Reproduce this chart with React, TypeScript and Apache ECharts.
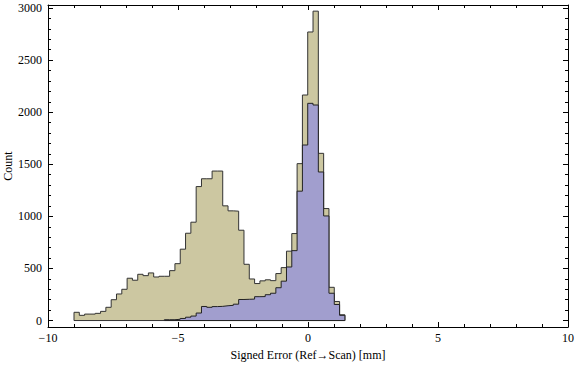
import React, { useEffect, useRef } from "react";
import * as echarts from "echarts";

// Histogram bins: all bins share the same width, starting at BIN_START
const BIN_START = -9.0;
const BIN_WIDTH = 0.2043;

// Counts of the wide (khaki) histogram, one per bin from BIN_START
const allCounts = [
  79, 50, 62, 62, 69, 88, 127, 200, 255, 300,
  406, 387, 444, 431, 457, 418, 425, 425, 479, 546,
  685, 838, 944, 1286, 1361, 1361, 1435, 1435, 1101, 1053,
  1050, 867, 540, 399, 355, 381, 391, 383, 451, 508,
  666, 835, 1506, 2165, 2770, 2970, 1605, 1075, 319, 183, 55,
];

// Counts of the narrow (lavender) histogram; it begins at bin index SUB_FIRST_BIN
const SUB_FIRST_BIN = 17;
const subCounts = [
  8, 8, 12, 20, 32, 43, 72, 135, 127, 134,
  136, 142, 146, 157, 202, 204, 206, 229, 230, 248,
  262, 315, 378, 514, 671, 1242, 1685, 2085, 2069, 1426,
  1004, 262, 154, 50,
];

const xMajorTicks = [-10, -5, 0, 5, 10];
const yMajorTicks = [0, 500, 1000, 1500, 2000, 2500, 3000];
const yMinorTicks = [
  100, 200, 300, 400, 600, 700, 800, 900, 1100, 1200, 1300, 1400,
  1600, 1700, 1800, 1900, 2100, 2200, 2300, 2400, 2600, 2700, 2800, 2900,
];

const X_MIN = -10;
const X_MAX = 10;
const Y_MIN = -62;
const Y_MAX = 3029;

const FONT = "'Liberation Serif', 'DejaVu Serif', serif";

function histPoints(counts: number[], firstBin: number): number[][] {
  const pts: number[][] = [];
  const x0 = BIN_START + firstBin * BIN_WIDTH;
  pts.push([x0, 0]);
  counts.forEach((c, i) => {
    pts.push([BIN_START + (firstBin + i) * BIN_WIDTH, c]);
  });
  const xEnd = BIN_START + (firstBin + counts.length) * BIN_WIDTH;
  pts.push([xEnd, 0]);
  pts.push([x0, 0]);
  return pts;
}

const fmtMinus = (v: number) => (v < 0 ? "\u2212" + Math.abs(v) : String(v));

export default function App() {
  const ref = useRef<HTMLDivElement>(null);
  useEffect(() => {
    if (!ref.current) return;
    const chart = echarts.init(ref.current, null, { renderer: "svg" });
    const black = "#000";
    const xAxisBase = (pos: "bottom" | "top", labels: boolean) => ({
      type: "value",
      position: pos,
      min: X_MIN,
      max: X_MAX,
      interval: 5,
      axisLine: { show: true, onZero: false, lineStyle: { color: black, width: 1 } },
      axisTick: { show: true, inside: true, length: 5, lineStyle: { color: black, width: 1 } },
      minorTick: { show: true, splitNumber: 5, length: 3, lineStyle: { color: black, width: 1 } },
      splitLine: { show: false },
      minorSplitLine: { show: false },
      axisLabel: {
        show: labels,
        margin: 5,
        fontFamily: FONT,
        fontSize: 12,
        color: black,
        customValues: xMajorTicks,
        formatter: (v: number) => fmtMinus(v),
      },
    });
    const yAxisBase = (pos: "left" | "right", minor: boolean, labels: boolean) => ({
      type: "value",
      position: pos,
      min: Y_MIN,
      max: Y_MAX,
      axisLine: { show: !minor, onZero: false, lineStyle: { color: black, width: 1 } },
      axisTick: {
        show: true,
        inside: true,
        length: minor ? 3 : 5,
        customValues: minor ? yMinorTicks : yMajorTicks,
        lineStyle: { color: black, width: 1 },
      },
      splitLine: { show: false },
      axisLabel: {
        show: labels,
        margin: 6,
        fontFamily: FONT,
        fontSize: 12,
        color: black,
        customValues: yMajorTicks,
        formatter: (v: number) => String(v),
      },
    });

    const option: any = {
      animation: false,
      grid: {
        left: 48,
        right: 8,
        top: 5,
        bottom: 40,
        containLabel: false,
        outerBoundsMode: "none",
      },
      xAxis: [
        {
          ...xAxisBase("bottom", true),
          name: "Signed Error (Ref\u2192Scan) [mm]",
          nameLocation: "middle",
          nameGap: 22,
          nameTextStyle: { fontFamily: FONT, fontSize: 12, color: black },
        },
        xAxisBase("top", false),
      ],
      yAxis: [
        {
          ...yAxisBase("left", false, true),
          name: "Count",
          nameLocation: "middle",
          nameGap: 40,
          nameRotate: 90,
          nameMoveOverlap: false,
          nameTextStyle: {
            fontFamily: FONT,
            fontSize: 12,
            color: black,
            verticalAlign: "middle",
          },
        },
        yAxisBase("left", true, false),
        yAxisBase("right", false, false),
        yAxisBase("right", true, false),
      ],
      series: [
        {
          type: "line",
          xAxisIndex: 0,
          yAxisIndex: 0,
          step: "end",
          symbol: "none",
          silent: true,
          data: histPoints(allCounts, 0),
          lineStyle: { color: "#333", width: 1 },
          areaStyle: { color: "#CCC7A1", opacity: 1, origin: 0 },
          z: 2,
        },
        {
          type: "line",
          xAxisIndex: 0,
          yAxisIndex: 0,
          step: "end",
          symbol: "none",
          silent: true,
          data: histPoints(subCounts, SUB_FIRST_BIN),
          lineStyle: { color: "#222", width: 1 },
          areaStyle: { color: "#A19ECE", opacity: 1, origin: 0 },
          z: 3,
        },
      ],
    };
    chart.setOption(option);
    return () => chart.dispose();
  }, []);
  return (
    <div
      ref={ref}
      style={{ position: "absolute", left: 0, top: 0, width: 576, height: 367 }}
    />
  );
}
